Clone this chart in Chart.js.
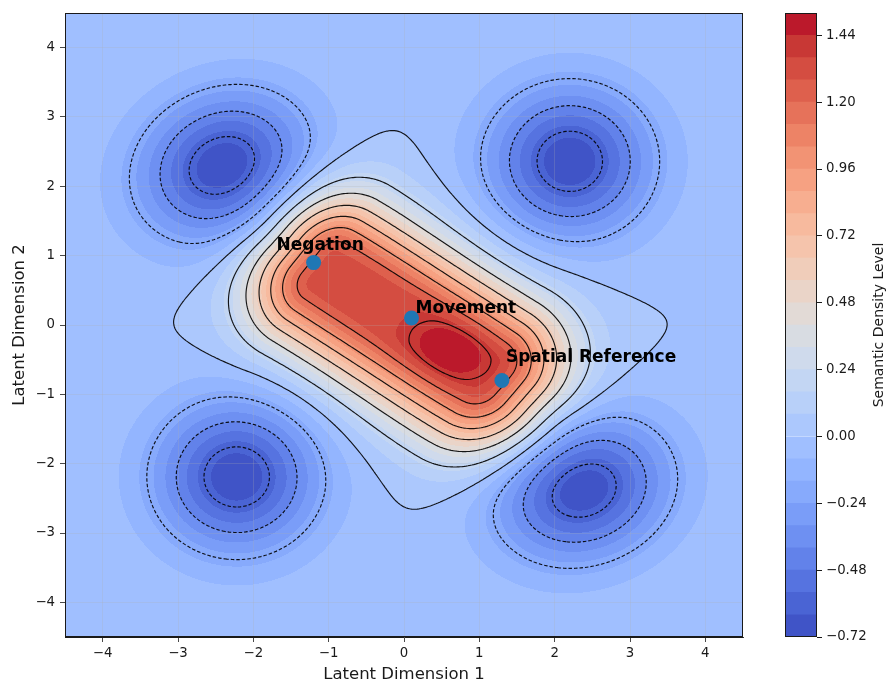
<!DOCTYPE html>
<html>
<head>
<meta charset="utf-8">
<script src="https://cdn.jsdelivr.net/npm/chart.js@4.4.1/dist/chart.umd.min.js"></script>
<style>
  html, body { margin: 0; padding: 0; background: #fff; }
  #wrap { position: relative; width: 887px; height: 684px; }
  #wrap canvas { position: absolute; left: 0; top: 0; }
</style>
</head>
<body>
<div id="wrap">
  <canvas id="main" width="887" height="684"></canvas>
  <canvas id="bar" width="887" height="684"></canvas>
</div>
<script>
// ---- data ----
const xTicks = [-4, -3, -2, -1, 0, 1, 2, 3, 4];
const yTicks = [-4, -3, -2, -1, 0, 1, 2, 3, 4];
const barTicks = [-0.72, -0.48, -0.24, 0.00, 0.24, 0.48, 0.72, 0.96, 1.20, 1.44];

// filled bands (colorbar boundaries) and line levels
const fillLevels = [-0.72, -0.64, -0.56, -0.48, -0.40, -0.32, -0.24, -0.16, -0.08, 0.00,
  0.08, 0.16, 0.24, 0.32, 0.40, 0.48, 0.56, 0.64, 0.72, 0.80, 0.88, 0.96, 1.04,
  1.12, 1.20, 1.28, 1.36, 1.44, 1.52];
const lineLevels = [-0.6, -0.4, -0.2, 0.0, 0.2, 0.4, 0.6, 0.8, 1.0, 1.2, 1.4];

// labelled terms
const termNames = ['Negation', 'Movement', 'Spatial Reference'];
const termX = [-1.2, 0.1, 1.3];
const termY = [0.9, 0.1, -0.8];

// central ridge of the density surface (flat top, soft shoulders)
const ridgeMid = [0.05, 0.02];
const ridgeAngle = -34.8;
const ridgeHeight = 1.32;
const ridgeSpan = [-1.34, 1.25];
const ridgeEnds = [0.59, 0.68];
const ridgeCore = 0.2;
const ridgeWidth = 0.68;
// peak sitting on the ridge
const peakMid = [0.62, -0.37];
const peakAngle = -28;
const peakHeight = 0.2;
const peakSpread = [0.44, 0.28];
// four negative wells
const wellX = [-2.4, 2.2, -2.22, 2.36];
const wellY = [2.29, 2.36, -2.19, -2.36];
const wellDepth = [-0.71, -0.71, -0.71, -0.71];
const wellSpreadA = [0.82, 0.75, 0.75, 0.82];
const wellSpreadB = [0.70, 0.75, 0.75, 0.70];
const wellAngle = [35, 0, 0, 25];

// ---- styles ----
const labelDx = [-37, 4, 4];
const labelDy = [-17, -9, -23];
const FONT = '"DejaVu Sans", "Liberation Sans", sans-serif';
const INK = '#1a1a1a';

// coolwarm colormap anchors
const coolwarm = [
  [59,76,192],[68,90,204],[77,104,215],[87,117,225],[98,130,234],[108,142,241],
  [119,154,247],[130,165,251],[141,176,254],[152,185,255],[163,194,255],[174,201,253],
  [184,208,249],[194,213,244],[204,217,238],[213,219,230],[221,221,221],[229,216,209],
  [236,211,197],[241,204,184],[245,196,172],[247,187,160],[247,177,148],[247,166,135],
  [244,154,123],[241,141,111],[236,127,99],[229,112,88],[222,96,77],[213,80,66],
  [203,62,56],[192,40,47],[180,4,38]
];
function cmap(t) {
  const s = Math.min(Math.max(t, 0), 1) * (coolwarm.length - 1);
  const i = Math.min(Math.floor(s), coolwarm.length - 2), f = s - i;
  const a = coolwarm[i], b = coolwarm[i + 1];
  return [0, 1, 2].map(k => Math.round(a[k] + (b[k] - a[k]) * f));
}
const nBands = fillLevels.length - 1;
const bandRGB = [];
for (let k = 0; k < nBands; k++) bandRGB.push(cmap((k + 0.5) / nBands));

function gauss2(dx, dy, angDeg, sa, sb) {
  const a = angDeg * Math.PI / 180, c = Math.cos(a), s = Math.sin(a);
  const u = dx * c + dy * s, v = -dx * s + dy * c;
  return Math.exp(-u * u / (2 * sa * sa) - v * v / (2 * sb * sb));
}

function density(x, y) {
  const a = ridgeAngle * Math.PI / 180, c = Math.cos(a), s = Math.sin(a);
  const dx = x - ridgeMid[0], dy = y - ridgeMid[1];
  const u = dx * c + dy * s, v = -dx * s + dy * c;
  let du = 0, su = ridgeEnds[1];
  if (u < ridgeSpan[0]) { du = ridgeSpan[0] - u; su = ridgeEnds[0]; }
  else if (u > ridgeSpan[1]) { du = u - ridgeSpan[1]; }
  const dv = Math.max(0, Math.abs(v) - ridgeCore);
  let z = ridgeHeight * Math.exp(-du * du / (2 * su * su) - dv * dv / (2 * ridgeWidth * ridgeWidth));
  z += peakHeight * gauss2(x - peakMid[0], y - peakMid[1], peakAngle, peakSpread[0], peakSpread[1]);
  for (let i = 0; i < wellX.length; i++) {
    z += wellDepth[i] * gauss2(x - wellX[i], y - wellY[i], wellAngle[i], wellSpreadA[i], wellSpreadB[i]);
  }
  return z;
}

// ---- marching squares on a data grid ----
const GX0 = -4.5, GN = 361, GD = 9 / (GN - 1);
const grid = new Float64Array(GN * GN);
for (let j = 0; j < GN; j++)
  for (let i = 0; i < GN; i++) grid[j * GN + i] = density(GX0 + i * GD, GX0 + j * GD);

function contourPaths(level) {
  const adj = new Map();
  const link = (p, q) => {
    if (!adj.has(p)) adj.set(p, []);
    if (!adj.has(q)) adj.set(q, []);
    adj.get(p).push(q); adj.get(q).push(p);
  };
  for (let j = 0; j < GN - 1; j++) {
    for (let i = 0; i < GN - 1; i++) {
      const bl = grid[j * GN + i], br = grid[j * GN + i + 1];
      const tr = grid[(j + 1) * GN + i + 1], tl = grid[(j + 1) * GN + i];
      const c = (bl > level ? 1 : 0) | (br > level ? 2 : 0) | (tr > level ? 4 : 0) | (tl > level ? 8 : 0);
      if (c === 0 || c === 15) continue;
      const B = 2 * (j * GN + i), T = 2 * ((j + 1) * GN + i);
      const L = 2 * (j * GN + i) + 1, R = 2 * (j * GN + i + 1) + 1;
      const mid = (bl + br + tr + tl) / 4 > level;
      switch (c) {
        case 1: case 14: link(L, B); break;
        case 2: case 13: link(B, R); break;
        case 3: case 12: link(L, R); break;
        case 4: case 11: link(R, T); break;
        case 6: case 9: link(B, T); break;
        case 7: case 8: link(L, T); break;
        case 5: if (mid) { link(L, T); link(B, R); } else { link(L, B); link(R, T); } break;
        case 10: if (mid) { link(L, B); link(R, T); } else { link(L, T); link(B, R); } break;
      }
    }
  }
  const pos = e => {
    const p = e >> 1, i = p % GN, j = (p / GN) | 0;
    const z0 = grid[p];
    if ((e & 1) === 0) {
      const z1 = grid[p + 1], t = (level - z0) / (z1 - z0);
      return [GX0 + (i + t) * GD, GX0 + j * GD];
    }
    const z1 = grid[p + GN], t = (level - z0) / (z1 - z0);
    return [GX0 + i * GD, GX0 + (j + t) * GD];
  };
  const seen = new Set(), paths = [];
  const walk = start => {
    const path = [pos(start)];
    seen.add(start);
    let cur = start, closed = false;
    for (;;) {
      const nb = adj.get(cur);
      const next = nb.find(n => !seen.has(n));
      if (next === undefined) { closed = nb.includes(start) && path.length > 2; break; }
      seen.add(next); path.push(pos(next)); cur = next;
    }
    if (closed) path.push(path[0]);
    paths.push(path);
  };
  for (const [k, nb] of adj) if (nb.length === 1 && !seen.has(k)) walk(k);
  for (const k of adj.keys()) if (!seen.has(k)) walk(k);
  return paths;
}
const contourSets = lineLevels.map(l => ({ level: l, paths: contourPaths(l) }));

const fmt = (v, d) => (v < 0 ? '\u2212' : '') + Math.abs(v).toFixed(d);

// ---- main plot ----
const densityPlugin = {
  id: 'densityPlugin',
  beforeDraw(chart) {
    const { ctx, chartArea: a, scales: { x, y } } = chart;
    const w = Math.round(a.right - a.left), h = Math.round(a.bottom - a.top);
    if (!this.img) {
      const img = ctx.createImageData(w, h);
      const L0 = fillLevels[0], step = fillLevels[1] - fillLevels[0];
      for (let py = 0; py < h; py++) {
        const yv = y.getValueForPixel(a.top + py + 0.5);
        for (let px = 0; px < w; px++) {
          const xv = x.getValueForPixel(a.left + px + 0.5);
          let k = Math.floor((density(xv, yv) - L0) / step);
          k = Math.max(0, Math.min(nBands - 1, k));
          const c = bandRGB[k], o = (py * w + px) * 4;
          img.data[o] = c[0]; img.data[o + 1] = c[1]; img.data[o + 2] = c[2]; img.data[o + 3] = 255;
        }
      }
      this.img = img;
    }
    ctx.putImageData(this.img, Math.round(a.left), Math.round(a.top));
  },
  beforeDatasetsDraw(chart) {
    const { ctx, chartArea: a, scales: { x, y } } = chart;
    ctx.save();
    ctx.beginPath();
    ctx.rect(a.left, a.top, a.right - a.left, a.bottom - a.top);
    ctx.clip();
    ctx.strokeStyle = 'rgba(0,0,0,0.9)';
    ctx.lineWidth = 1.15;
    ctx.lineJoin = 'round';
    for (const set of contourSets) {
      ctx.setLineDash(set.level < 0 ? [3.5, 2] : []);
      for (const path of set.paths) {
        ctx.beginPath();
        path.forEach((p, i) => {
          const px = x.getPixelForValue(p[0]), py = y.getPixelForValue(p[1]);
          if (i === 0) ctx.moveTo(px, py); else ctx.lineTo(px, py);
        });
        ctx.stroke();
      }
    }
    ctx.restore();
  },
  afterDatasetsDraw(chart) {
    const { ctx, scales: { x, y } } = chart;
    ctx.save();
    ctx.font = 'bold 17px ' + FONT;
    ctx.fillStyle = '#000';
    ctx.textAlign = 'left';
    ctx.textBaseline = 'middle';
    termNames.forEach((name, i) => {
      ctx.fillText(name, x.getPixelForValue(termX[i]) + labelDx[i], y.getPixelForValue(termY[i]) + labelDy[i]);
    });
    ctx.restore();
  },
  afterDraw(chart) {
    const { ctx, chartArea: a } = chart;
    ctx.save();
    ctx.strokeStyle = INK;
    ctx.lineWidth = 1;
    ctx.strokeRect(a.left + 0.5, a.top + 0.5, a.right - a.left - 1, a.bottom - a.top - 1);
    ctx.fillStyle = INK;
    ctx.font = '16.5px ' + FONT;
    ctx.textAlign = 'center';
    ctx.textBaseline = 'middle';
    ctx.fillText('Latent Dimension 1', (a.left + a.right) / 2, 675);
    ctx.translate(20, (a.top + a.bottom) / 2);
    ctx.rotate(-Math.PI / 2);
    ctx.fillText('Latent Dimension 2', 0, 0);
    ctx.restore();
  }
};

new Chart(document.getElementById('main'), {
  type: 'scatter',
  data: {
    datasets: [{
      data: termX.map((v, i) => ({ x: v, y: termY[i] })),
      backgroundColor: '#1f77b4',
      borderWidth: 0,
      pointRadius: 7.5,
      pointHoverRadius: 7.5
    }]
  },
  options: {
    responsive: false,
    animation: false,
    devicePixelRatio: 1,
    layout: { padding: { left: 0, top: 13, right: 144, bottom: 0 } },
    plugins: { legend: { display: false }, tooltip: { enabled: false } },
    scales: {
      x: {
        type: 'linear', min: -4.5, max: 4.5,
        afterBuildTicks: s => { s.ticks = xTicks.map(v => ({ value: v })); },
        afterFit: s => { s.height = 47; },
        ticks: { callback: v => fmt(v, 0), font: { family: FONT, size: 13.3 }, color: INK, padding: 4, maxRotation: 0 },
        grid: { color: 'rgba(176,176,176,0.3)', lineWidth: 0.8, tickColor: INK, tickLength: 5 },
        border: { display: true, color: INK, width: 1 }
      },
      y: {
        type: 'linear', min: -4.5, max: 4.5,
        afterBuildTicks: s => { s.ticks = yTicks.map(v => ({ value: v })); },
        afterFit: s => { s.width = 65; },
        ticks: { callback: v => fmt(v, 0), font: { family: FONT, size: 13.3 }, color: INK, padding: 5 },
        grid: { color: 'rgba(176,176,176,0.3)', lineWidth: 0.8, tickColor: INK, tickLength: 5 },
        border: { display: true, color: INK, width: 1 }
      }
    }
  },
  plugins: [densityPlugin]
});

// ---- colorbar ----
const barFrame = {
  id: 'barFrame',
  afterDraw(chart) {
    const { ctx, chartArea: a } = chart;
    ctx.save();
    ctx.strokeStyle = INK;
    ctx.lineWidth = 1;
    ctx.strokeRect(a.left + 0.5, a.top + 0.5, a.right - a.left - 1, a.bottom - a.top - 1);
    ctx.fillStyle = INK;
    ctx.font = '14px ' + FONT;
    ctx.textAlign = 'center';
    ctx.textBaseline = 'middle';
    ctx.translate(879, (a.top + a.bottom) / 2);
    ctx.rotate(-Math.PI / 2);
    ctx.fillText('Semantic Density Level', 0, 0);
    ctx.restore();
  }
};

const bandSets = [];
for (let k = 0; k < nBands; k++) {
  const c = bandRGB[k];
  bandSets.push({
    data: [[fillLevels[k], fillLevels[k + 1]]],
    backgroundColor: `rgb(${c[0]},${c[1]},${c[2]})`,
    borderWidth: 0,
    grouped: false,
    barPercentage: 1,
    categoryPercentage: 1
  });
}

new Chart(document.getElementById('bar'), {
  type: 'bar',
  data: { labels: ['level'], datasets: bandSets },
  options: {
    responsive: false,
    animation: false,
    devicePixelRatio: 1,
    layout: { padding: { left: 785, top: 13, right: 0, bottom: 47 } },
    plugins: { legend: { display: false }, tooltip: { enabled: false } },
    scales: {
      x: { display: false },
      y: {
        position: 'right', min: fillLevels[0], max: fillLevels[fillLevels.length - 1],
        afterBuildTicks: s => { s.ticks = barTicks.map(v => ({ value: v })); },
        afterFit: s => { s.width = 70; },
        ticks: { callback: v => fmt(v, 2), font: { family: FONT, size: 13.3 }, color: INK, padding: 4 },
        grid: { drawOnChartArea: false, drawTicks: true, tickLength: 5, tickColor: INK },
        border: { display: false }
      }
    }
  },
  plugins: [barFrame]
});
</script>
</body>
</html>
